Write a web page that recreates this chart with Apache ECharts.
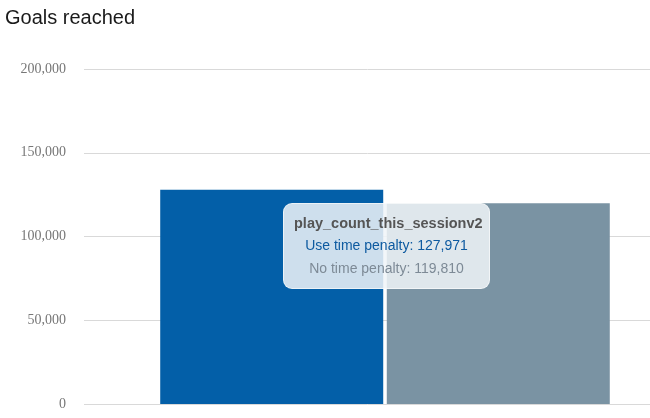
<!DOCTYPE html>
<html>
<head>
<meta charset="utf-8">
<script src="https://cdn.jsdelivr.net/npm/echarts@6/dist/echarts.min.js"></script>
<style>
html,body{margin:0;padding:0;background:#fff;}
#chart{width:650px;height:418px;}
</style>
</head>
<body>
<div id="chart"></div>
<script>
var categories = ['play_count_this_sessionv2'];
var seriesNames = ['Use time penalty', 'No time penalty'];
var useTimePenalty = [127971];
var noTimePenalty = [119810];
var yTicks = [0, 50000, 100000, 150000, 200000];
var colors = ['#035fa8', '#7a93a3'];

var chart = echarts.init(document.getElementById('chart'));
function fmt(v){ return v.toLocaleString('en-US'); }
chart.setOption({
  animation: false,
  title: {
    text: 'Goals reached', left: 0, top: 3,
    textStyle: { fontFamily: 'Liberation Sans', fontSize: 20, fontWeight: 'normal', color: '#1a1a1a' }
  },
  grid: { left: 84, width: 602, top: 69, bottom: 14, containLabel: false, outerBoundsMode: 'none' },
  tooltip: {
    trigger: 'axis',
    triggerOn: 'none',
    alwaysShowContent: true,
    axisPointer: { type: 'none' },
    position: [283, 203],
    backgroundColor: 'rgba(240,244,248,0.86)',
    borderColor: 'rgba(255,255,255,0.6)',
    borderWidth: 1,
    padding: [8, 10],
    extraCssText: 'border-radius:9px;box-shadow:none;width:185px;text-align:center;',
    formatter: function(params){
      var s = '<div style="font-family:Liberation Sans;font-weight:bold;font-size:14.5px;color:#555;line-height:22px;">' + params[0].name + '</div>';
      params.forEach(function(p, i){
        s += '<div style="font-family:Liberation Sans;font-size:14px;line-height:23px;color:' + (i === 0 ? '#0d5aa0' : '#7d8a96') + ';">' + p.seriesName + ': ' + fmt(p.value) + '</div>';
      });
      return s;
    }
  },
  xAxis: {
    type: 'category', data: categories,
    axisLine: { show: false }, axisTick: { show: false }, axisLabel: { show: false }
  },
  yAxis: {
    type: 'value', min: yTicks[0], max: yTicks[yTicks.length - 1], interval: 50000,
    axisLine: { show: false }, axisTick: { show: false },
    axisLabel: { margin: 18, fontFamily: 'Liberation Serif', fontSize: 14, color: '#777', formatter: function(v){ return fmt(v); } },
    splitLine: { lineStyle: { color: '#d9d9d9', width: 1 } }
  },
  series: [
    { name: seriesNames[0], type: 'bar', data: useTimePenalty, barWidth: 223, barGap: '1.6%', itemStyle: { color: colors[0] }, emphasis: { disabled: true } },
    { name: seriesNames[1], type: 'bar', data: noTimePenalty, barWidth: 223, itemStyle: { color: colors[1] }, emphasis: { disabled: true } }
  ]
});
chart.dispatchAction({ type: 'showTip', seriesIndex: 0, dataIndex: 0 });
</script>
</body>
</html>
